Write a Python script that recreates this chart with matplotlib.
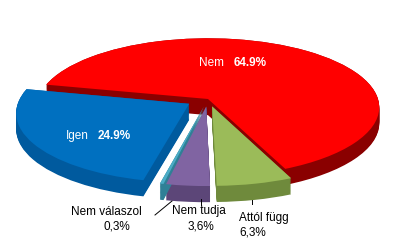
# 3D-style exploded pie: "Nem / Igen / Nem tudja / Attól függ / Nem válaszol"

import numpy as np
import matplotlib.pyplot as plt
from matplotlib.patches import Wedge
from matplotlib.transforms import Affine2D, Transform

plt.rcParams['font.family'] = ['Liberation Sans', 'DejaVu Sans']

# Data (clockwise from the left edge of the big red slice)
labels = ['Nem', 'Attól függ', 'Nem tudja', 'Nem válaszol', 'Igen']
values = [64.9, 6.3, 3.6, 0.3, 24.9]
pct_text = ['64.9%', '6,3%', '3,6%', '0,3%', '24.9%']
colors = ['#FF0000', '#9BBB59', '#8064A2', '#4BACC6', '#0070C0']
side_colors = ['#8A0000', '#6F8A3C', '#5C4678', '#2F8096', '#005A9E']
explode = [0.0, 0.11, 0.11, 0.11, 0.13]

SQUASH = 0.40   # vertical flattening of the disc
PERSP = 0.12    # front of the disc looks bigger than the back
DEPTH = 0.095   # thickness of the disc


class Tilt(Transform):
    """Tilt the pie plane towards the viewer with a little perspective."""
    input_dims = 2
    output_dims = 2

    def transform_non_affine(self, values):
        values = np.asarray(values, dtype=float)
        x, y = values[:, 0], values[:, 1]
        d = 1 + PERSP * y
        return np.column_stack([x / d, SQUASH * y / d])


fig = plt.figure(figsize=(4.0, 2.44), dpi=100)
ax = fig.add_axes([0, 0, 1, 1])

wedges, _ = ax.pie(values, colors=colors, explode=explode,
                   startangle=167.5, counterclock=False,
                   wedgeprops=dict(linewidth=0))

# Side walls: stack of darker copies shifted downwards
for w, sc in zip(wedges, side_colors):
    for k in np.linspace(DEPTH, 0, 20):
        side = Wedge(w.center, w.r, w.theta1, w.theta2, color=sc, lw=0,
                     zorder=1)
        side.set_transform(Tilt() + Affine2D().translate(0, -k)
                           + ax.transData)
        ax.add_patch(side)

# Top faces
for w in wedges:
    w.set_transform(Tilt() + ax.transData)
    w.set_zorder(2)

# 170 px per unit, pie centre at pixel (208, 99)
CX, CY, S = 208, 99, 170
ax.set_aspect('auto')
ax.set_xlim(-CX / S, (400 - CX) / S)
ax.set_ylim(-(244 - CY) / S, CY / S)
ax.axis('off')


def px(x, y):
    # pixel position in the 400x244 picture -> data coordinates
    return (x - CX) / S, (CY - y) / S


def label(x, y, s, **kw):
    kw.setdefault('ha', 'center')
    ax.text(*px(x, y), s, fontsize=8.5, va='center', zorder=5, **kw)


# In-slice labels (white)
label(212, 63, labels[0], color='white')
label(250, 63, pct_text[0], color='white', fontweight='bold')
label(77, 136, labels[4], color='white')
label(114, 136, pct_text[4], color='white', fontweight='bold')

# Outside labels (black)
label(106, 212, labels[3])
label(117, 226, pct_text[3])
label(199, 211, labels[2])
label(201, 226, pct_text[2])
label(239, 218, labels[1], ha='left')
label(239, 232, pct_text[1], ha='left')

# Short leader lines
for (x0, y0), (x1, y1) in [((155, 215), (172, 201)),
                           ((201, 199), (201, 205)),
                           ((252, 200), (252, 204))]:
    a, b = px(x0, y0), px(x1, y1)
    ax.plot([a[0], b[0]], [a[1], b[1]], color='black', lw=0.7, zorder=5)

plt.savefig('out.png', dpi=100)
